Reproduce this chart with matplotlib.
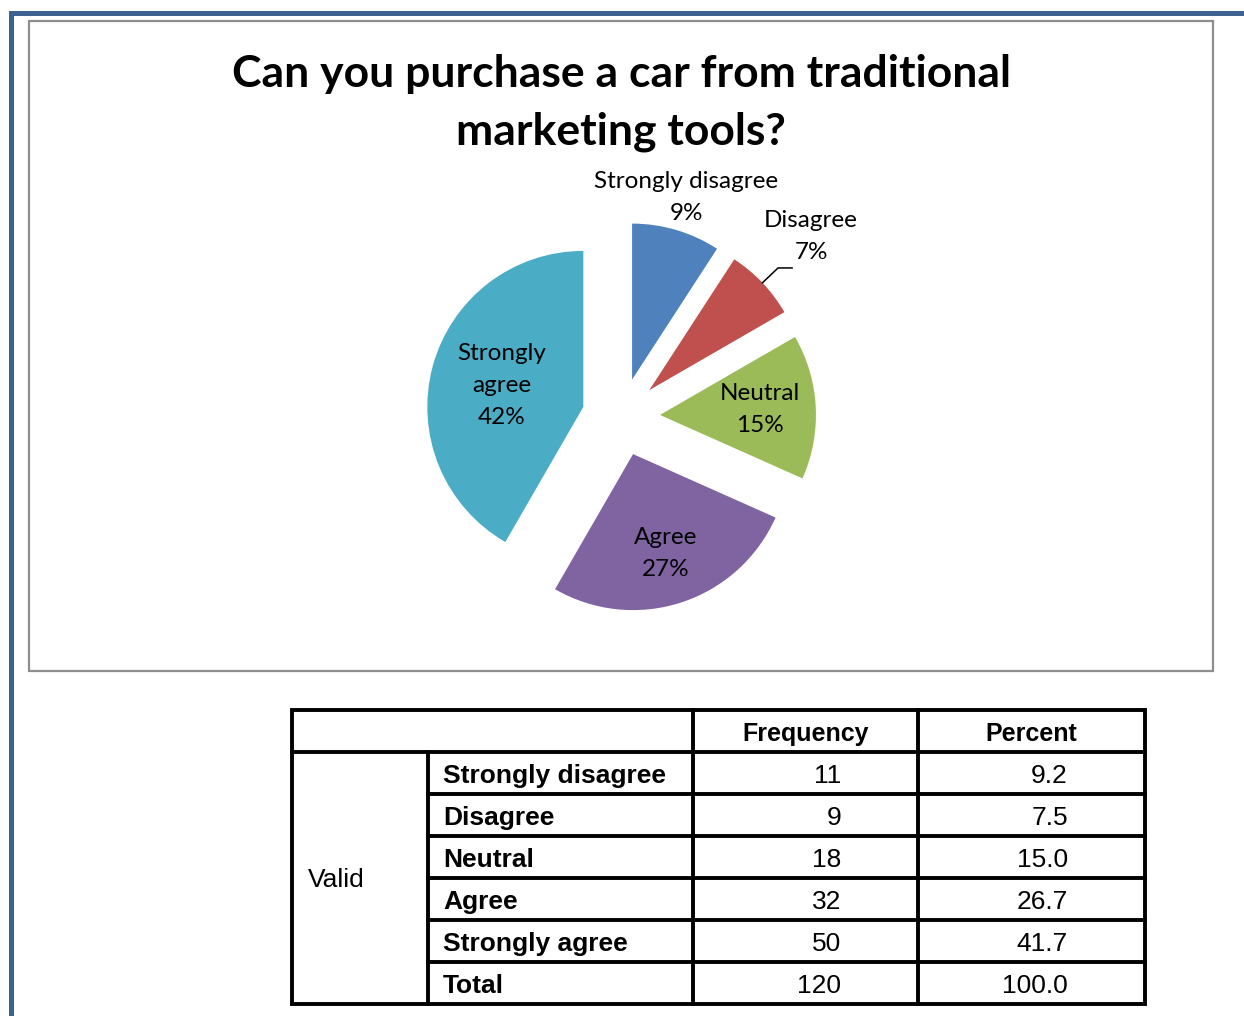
import numpy as np
import matplotlib.pyplot as plt

# --- survey answers ---
categories = ["Strongly disagree", "Disagree", "Neutral", "Agree", "Strongly agree"]
frequency = [11, 9, 18, 32, 50]
percent = [9.2, 7.5, 15.0, 26.7, 41.7]
total_frequency = 120
total_percent = 100.0
pie_labels = ["Strongly disagree\n9%", "Disagree\n7%", "Neutral\n15%",
              "Agree\n27%", "Strongly\nagree\n42%"]

COLORS = ["#4F81BD", "#C0504D", "#9BBB59", "#8064A2", "#4BACC6"]
CHART_FONT = ["Lato", "DejaVu Sans"]
TABLE_FONT = ["Liberation Sans", "DejaVu Sans"]

W, H = 1244, 1016
fig = plt.figure(figsize=(W / 100, H / 100), dpi=100)

# full-figure canvas in pixel units for frames, title and table
canvas = fig.add_axes([0, 0, 1, 1])
canvas.set_xlim(0, W)
canvas.set_ylim(H, 0)
canvas.axis("off")

# page border (top and left) and chart frame
canvas.plot([10.5, 10.5, W + 5], [H + 5, 12.5, 12.5], color="#3E6194", lw=3.6,
            solid_joinstyle="miter")
canvas.add_patch(plt.Rectangle((29, 20.5), 1184, 650.5, fill=False,
                               edgecolor="#8E8E8E", lw=1.6))

canvas.text(621, 74, "Can you purchase a car from traditional", ha="center", va="center",
            fontsize=32, fontweight="bold", family=CHART_FONT)
canvas.text(621, 132, "marketing tools?", ha="center", va="center",
            fontsize=32, fontweight="bold", family=CHART_FONT)

# --- exploded pie ---
cx, cy, r = 621, 417, 156
ax = fig.add_axes([(cx - 2 * r) / W, (H - cy - 2 * r) / H, 4 * r / W, 4 * r / H])

wedges, _ = ax.pie(frequency, colors=COLORS, startangle=90, counterclock=False,
                   explode=[0.25] * 5, radius=1.0)
ax.set_xlim(-2, 2)
ax.set_ylim(-2, 2)
ax.set_aspect("equal")
ax.axis("off")

label_dist = [1.22, 1.43, 0.64, 0.67, 0.54]
for i, w in enumerate(wedges):
    ang = np.deg2rad((w.theta1 + w.theta2) / 2)
    x0, y0 = w.center
    tx = x0 + label_dist[i] * np.cos(ang)
    ty = y0 + label_dist[i] * np.sin(ang)
    ax.text(tx, ty, pie_labels[i], ha="center", va="center", fontsize=17.5,
            family=CHART_FONT, linespacing=1.65)
    if i == 1:
        # leader line for the small slice
        px = x0 + np.cos(ang)
        py = y0 + np.sin(ang)
        ax.plot([px, px + 0.1, px + 0.19], [py, py + 0.095, py + 0.095],
                color="black", lw=1.1)

# --- frequency table ---
xs = [292, 428, 693, 918, 1145]
ys = [710, 752, 794, 836, 878, 920, 962, 1004]
lw = 2.8
canvas.add_patch(plt.Rectangle((xs[0], ys[0]), xs[-1] - xs[0], ys[-1] - ys[0],
                               fill=False, edgecolor="black", lw=lw))
canvas.plot([xs[0], xs[-1]], [ys[1], ys[1]], color="black", lw=lw)
for y in ys[2:-1]:
    canvas.plot([xs[1], xs[-1]], [y, y], color="black", lw=lw)
canvas.plot([xs[1], xs[1]], [ys[1], ys[-1]], color="black", lw=lw)
for x in xs[2:4]:
    canvas.plot([x, x], [ys[0], ys[-1]], color="black", lw=lw)

fs = 19
canvas.text((xs[2] + xs[3]) / 2, (ys[0] + ys[1]) / 2 + 3, "Frequency", ha="center",
            va="center", fontsize=fs - 1, fontweight="bold", family=TABLE_FONT)
canvas.text((xs[3] + xs[4]) / 2, (ys[0] + ys[1]) / 2 + 3, "Percent", ha="center",
            va="center", fontsize=fs - 1, fontweight="bold", family=TABLE_FONT)
canvas.text(308, (ys[1] + ys[-1]) / 2 + 2, "Valid", ha="left", va="center",
            fontsize=fs, family=TABLE_FONT)

row_names = categories + ["Total"]
freqs = frequency + [total_frequency]
pcts = percent + [total_percent]
for j in range(len(row_names)):
    yc = (ys[j + 1] + ys[j + 2]) / 2 + 3
    canvas.text(443, yc, row_names[j], ha="left", va="center", fontsize=fs,
                fontweight="bold", family=TABLE_FONT)
    canvas.text(841, yc, f"{freqs[j]}", ha="right", va="center", fontsize=fs,
                family=TABLE_FONT)
    canvas.text(1068, yc, f"{pcts[j]:.1f}", ha="right", va="center", fontsize=fs,
                family=TABLE_FONT)

fig.savefig("out.png", dpi=100, facecolor="white")
